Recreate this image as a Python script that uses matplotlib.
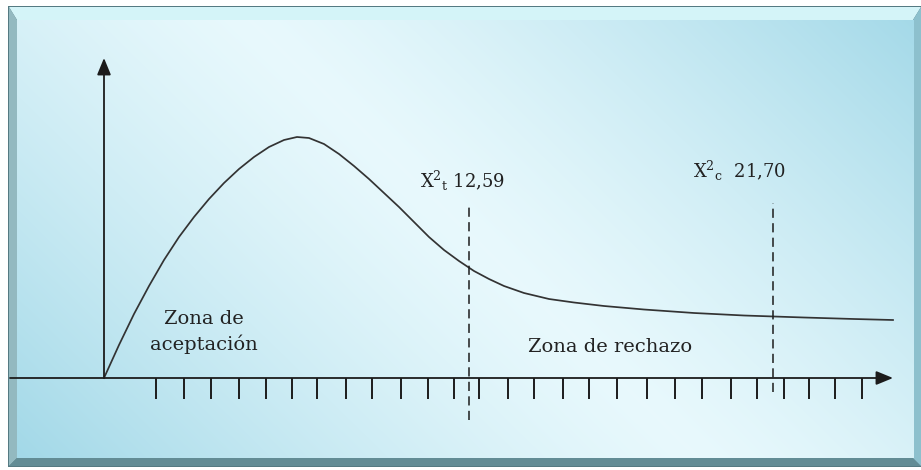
import numpy as np
import matplotlib
matplotlib.use("Agg")
import matplotlib.pyplot as plt
from matplotlib.patches import Polygon, Rectangle

plt.rcParams['font.family'] = ['DejaVu Serif']
plt.rcParams['mathtext.fontset'] = 'dejavuserif'

# curve (x to the right of origin, height above x axis)
curve_x = [0, 15, 30, 45, 60, 75, 90, 105, 120, 135, 150, 165, 180, 193,
           205, 220, 235, 250, 265, 280, 295, 310, 325, 340, 355, 370, 385,
           400, 420, 445, 470, 500, 540, 590, 640, 700, 750, 789]
curve_y = [0, 33, 64, 92, 118, 141, 161, 179, 195, 209, 221, 231, 238, 241,
           240, 234, 224, 212, 199, 185, 171, 156, 141, 128, 117, 107, 99,
           92, 85, 79, 75.5, 72, 68.5, 65, 62.5, 60.5, 59, 58]

tick_x = [52, 80, 107, 135, 162, 188, 213, 242, 268, 297, 324, 350, 375, 404,
          430, 459, 485, 513, 543, 571, 598, 627, 653, 680, 705, 731, 758]

crit_x = [365, 669]          # X2 tabla 12,59 / X2 calculado 21,70
crit_bottom = [-42, -14]
crit_top = 175
crit_labels = [r"X$^{2}$$_{\mathrm{t}}$ 12,59", r"X$^{2}$$_{\mathrm{c}}$  21,70"]
crit_label_pos = [(316, 190), (589, 200)]

fig = plt.figure(figsize=(9.21, 4.70), dpi=100)

# background frame, pixel coords
bg = fig.add_axes([0, 0, 1, 1])
bg.axis('off')

bg.add_patch(Rectangle((8, 6), 913, 461, facecolor='#557a82', edgecolor='none'))
bg.add_patch(Polygon([(9, 7), (921, 7), (913, 20), (17, 20)], closed=True,
                     facecolor='#d4f4f8', edgecolor='none'))
bg.add_patch(Polygon([(9, 7), (17, 20), (17, 458), (9, 466)], closed=True,
                     facecolor='#93b9c0', edgecolor='none'))
bg.add_patch(Polygon([(9, 466), (17, 458), (913, 458), (921, 466)], closed=True,
                     facecolor='#628c95', edgecolor='none'))
bg.add_patch(Polygon([(921, 7), (913, 20), (913, 458), (921, 466)], closed=True,
                     facecolor='#8dc0cd', edgecolor='none'))

# diagonal light band gradient
gx, gy = np.meshgrid(np.arange(17, 913), np.arange(20, 458))
d = np.abs((gx - 250) * 0.699 - (gy - 20) * 0.715)
t = np.clip(d / 470.0, 0, 1) ** 1.3
light = np.array([0.91, 0.975, 0.99])
dark = np.array([0.64, 0.85, 0.91])
img = light[None, None, :] * (1 - t[..., None]) + dark[None, None, :] * t[..., None]
bg.imshow(img, extent=(17, 913, 458, 20), aspect='auto', interpolation='bilinear',
          zorder=3)
bg.set_xlim(0, 921)
bg.set_ylim(470, 0)

# chart, origin at pixel (104, 378)
ax = fig.add_axes([0, 0, 1, 1])
ax.set_xlim(-104, 817)
ax.set_ylim(-92, 378)
ax.axis('off')
ax.patch.set_alpha(0)

ink = '#1c1c1c'
arrow = dict(arrowstyle='-|>,head_length=0.85,head_width=0.35', mutation_scale=12,
             color=ink, lw=1.3, shrinkA=0, shrinkB=0)
ax.annotate('', xy=(789, 0), xytext=(-94, 0), arrowprops=arrow)
ax.annotate('', xy=(0, 320), xytext=(0, 0), arrowprops=arrow)

ax.vlines(tick_x, -21, 0, color=ink, lw=1.4)

ax.plot(curve_x, curve_y, color='#333333', lw=1.25, solid_joinstyle='round')

for x, yb in zip(crit_x, crit_bottom):
    ax.plot([x, x], [yb, crit_top], color=ink, lw=1.1, dashes=(6, 3.5))

for lab, (lx, ly) in zip(crit_labels, crit_label_pos):
    ax.text(lx, ly, lab, fontsize=13, color='#222222', ha='left', va='baseline')

ax.text(100, 54, "Zona de", fontsize=14, color='#222222', ha='center', va='baseline')
ax.text(100, 28, "aceptación", fontsize=14, color='#222222', ha='center', va='baseline')
ax.text(506, 26, "Zona de rechazo", fontsize=14, color='#222222', ha='center', va='baseline')

fig.savefig('out.png', dpi=100)
